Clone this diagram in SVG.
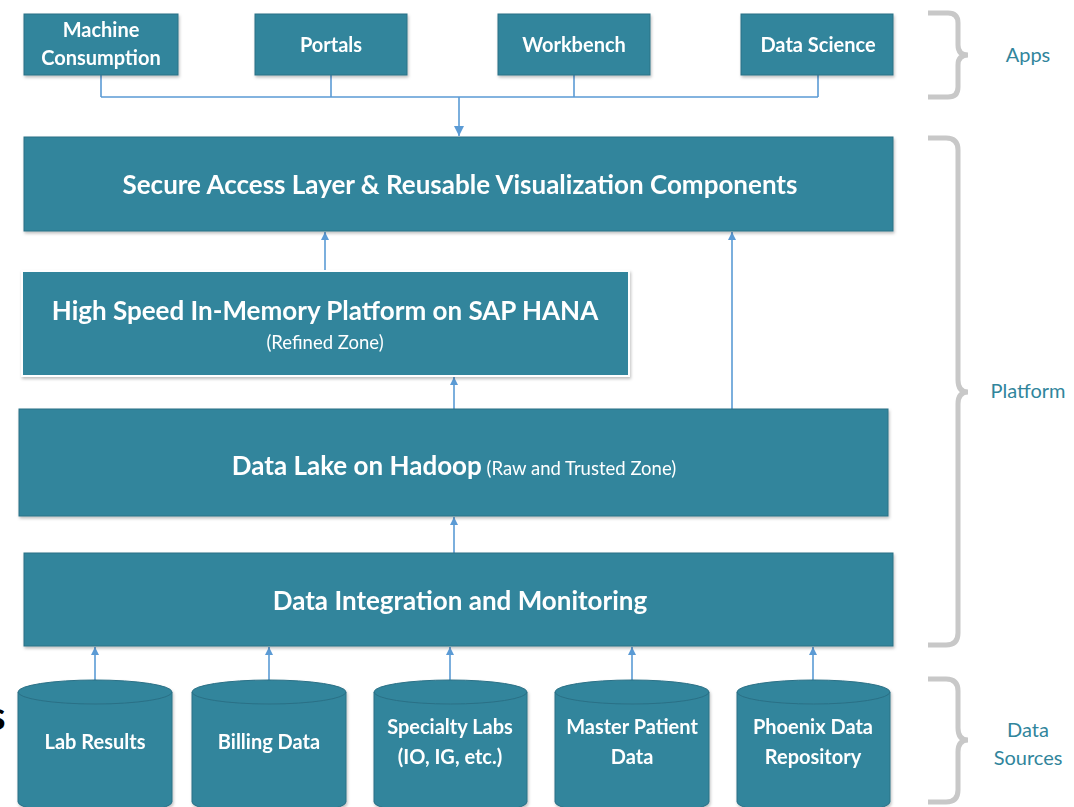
<svg xmlns="http://www.w3.org/2000/svg" width="1074" height="807" viewBox="0 0 1074 807">
<style>
.box{fill:#31859c;stroke:#2b7086;stroke-width:1}
.hana{fill:#31859c;stroke:#ffffff;stroke-width:2}
.t{font-family:Lato,"Liberation Sans",sans-serif;fill:#ffffff;text-anchor:middle}
.b{font-weight:bold}
.lbl{font-family:Lato,"Liberation Sans",sans-serif;fill:#31859c;font-size:20px;text-anchor:middle}
.con{fill:none;stroke:#5b9bd5;stroke-width:1.6}
.brace{fill:none;stroke:#c8c8c8;stroke-width:5}
</style>
<defs>
<marker id="ah" viewBox="0 0 10 10" refX="10" refY="5" markerWidth="8" markerHeight="8" markerUnits="userSpaceOnUse" orient="auto">
<path d="M0,0 L10,5 L0,10 z" fill="#5b9bd5"/>
</marker>
<marker id="ah2" viewBox="0 0 10 10" refX="10" refY="5" markerWidth="10" markerHeight="10" orient="auto" markerUnits="userSpaceOnUse">
<path d="M0,0 L10,5 L0,10 z" fill="#5b9bd5"/>
</marker>
<filter id="sh" x="-5%" y="-10%" width="110%" height="130%">
<feDropShadow dx="1" dy="2" stdDeviation="1.5" flood-color="#000" flood-opacity="0.25"/>
</filter>
</defs>

<g id="connectors">
<path class="con" d="M101,75 V97 M331,75 V97 M574,75 V97 M818,75 V97 M101,97 H818"/>
<path class="con" d="M459,97 V136" marker-end="url(#ah2)"/>
<path class="con" d="M325,271 V232" marker-end="url(#ah)"/>
<path class="con" d="M732,409 V232" marker-end="url(#ah)"/>
<path class="con" d="M454,409 V377" marker-end="url(#ah)"/>
<path class="con" d="M454,553 V517" marker-end="url(#ah)"/>
<path class="con" d="M95,680 V647" marker-end="url(#ah)"/>
<path class="con" d="M269,680 V647" marker-end="url(#ah)"/>
<path class="con" d="M450,680 V647" marker-end="url(#ah)"/>
<path class="con" d="M632,680 V647" marker-end="url(#ah)"/>
<path class="con" d="M813,680 V647" marker-end="url(#ah)"/>
</g>

<g id="app-machine" filter="url(#sh)">
<rect class="box" x="24" y="14" width="154" height="61"/>
<text class="t b" x="101" y="37" font-size="20">Machine</text>
<text class="t b" x="101" y="65" font-size="20">Consumption</text>
</g>
<g id="app-portals" filter="url(#sh)">
<rect class="box" x="255" y="14" width="152" height="61"/>
<text class="t b" x="331" y="52" font-size="20">Portals</text>
</g>
<g id="app-workbench" filter="url(#sh)">
<rect class="box" x="498" y="14" width="152" height="61"/>
<text class="t b" x="574" y="52" font-size="20">Workbench</text>
</g>
<g id="app-datascience" filter="url(#sh)">
<rect class="box" x="741" y="14" width="152" height="61"/>
<text class="t b" x="818" y="52" font-size="20">Data Science</text>
</g>

<g id="secure-access" filter="url(#sh)">
<rect class="box" x="24" y="137" width="869" height="94"/>
<text class="t b" x="460" y="194" font-size="26">Secure Access Layer &amp; Reusable Visualization Components</text>
</g>

<g id="hana" filter="url(#sh)">
<rect class="hana" x="22" y="271" width="607" height="105"/>
<text class="t b" x="325" y="320" font-size="26">High Speed In-Memory Platform on SAP HANA</text>
<text class="t" x="325" y="349" font-size="18.5">(Refined Zone)</text>
</g>

<g id="data-lake" filter="url(#sh)">
<rect class="box" x="19" y="409" width="869" height="107"/>
<text class="t" x="454" y="475"><tspan class="b" font-size="26">Data Lake on Hadoop</tspan><tspan font-size="18.5"> (Raw and Trusted Zone)</tspan></text>
</g>

<g id="data-integration" filter="url(#sh)">
<rect class="box" x="24" y="553" width="869" height="93"/>
<text class="t b" x="460" y="610" font-size="26">Data Integration and Monitoring</text>
</g>

<g id="src-lab" filter="url(#sh)">
<path class="box" d="M18,692 A77,12 0 0 1 172,692 V802 A77,12 0 0 1 18,802 Z"/>
<path fill="none" stroke="#2b7086" stroke-width="1" d="M18,692 A77,12 0 0 0 172,692"/>
<text class="t b" x="95" y="749" font-size="20">Lab Results</text>
</g>
<g id="src-billing" filter="url(#sh)">
<path class="box" d="M192,692 A77,12 0 0 1 346,692 V802 A77,12 0 0 1 192,802 Z"/>
<path fill="none" stroke="#2b7086" stroke-width="1" d="M192,692 A77,12 0 0 0 346,692"/>
<text class="t b" x="269" y="749" font-size="20">Billing Data</text>
</g>
<g id="src-specialty" filter="url(#sh)">
<path class="box" d="M374,692 A76.5,12 0 0 1 527,692 V802 A76.5,12 0 0 1 374,802 Z"/>
<path fill="none" stroke="#2b7086" stroke-width="1" d="M374,692 A76.5,12 0 0 0 527,692"/>
<text class="t b" x="450" y="734" font-size="20">Specialty Labs</text>
<text class="t b" x="450" y="764" font-size="20">(IO, IG, etc.)</text>
</g>
<g id="src-master" filter="url(#sh)">
<path class="box" d="M555,692 A77,12 0 0 1 709,692 V802 A77,12 0 0 1 555,802 Z"/>
<path fill="none" stroke="#2b7086" stroke-width="1" d="M555,692 A77,12 0 0 0 709,692"/>
<text class="t b" x="632" y="734" font-size="20">Master Patient</text>
<text class="t b" x="632" y="764" font-size="20">Data</text>
</g>
<g id="src-phoenix" filter="url(#sh)">
<path class="box" d="M737,692 A76.5,12 0 0 1 890,692 V802 A76.5,12 0 0 1 737,802 Z"/>
<path fill="none" stroke="#2b7086" stroke-width="1" d="M737,692 A76.5,12 0 0 0 890,692"/>
<text class="t b" x="813" y="734" font-size="20">Phoenix Data</text>
<text class="t b" x="813" y="764" font-size="20">Repository</text>
</g>

<g id="brace-apps">
<path class="brace" d="M928,13 H948 Q958,13 958,23 V45 Q958,55 968,55 Q958,55 958,65 V87 Q958,97 948,97 H928"/>
<text class="lbl" x="1028" y="62">Apps</text>
</g>
<g id="brace-platform">
<path class="brace" d="M928,138 H946 Q958,138 958,150 V380 Q958,392 968,392 Q958,392 958,404 V633 Q958,645 946,645 H928"/>
<text class="lbl" x="1028" y="398">Platform</text>
</g>
<g id="brace-sources">
<path class="brace" d="M928,679 H946 Q958,679 958,691 V728 Q958,740 968,740 Q958,740 958,752 V790 Q958,802 946,802 H928"/>
<text class="lbl" x="1028" y="737">Data</text>
<text class="lbl" x="1028" y="765">Sources</text>
</g>

<text x="-12" y="730" font-family="Lato,'Liberation Sans',sans-serif" font-weight="bold" font-size="40" fill="#000">s</text>
</svg>
